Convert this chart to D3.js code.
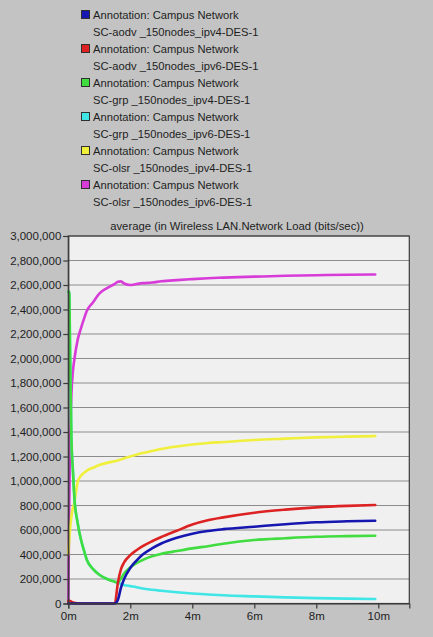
<!DOCTYPE html>
<html><head><meta charset="utf-8">
<script src="https://cdn.jsdelivr.net/npm/d3@7"></script>
<style>
html,body{margin:0;padding:0;background:#c3c3c3;}
svg{display:block;}
text{font-family:"Liberation Sans",Arial,sans-serif;}
</style></head>
<body>
<script>
const legendLabels = [
  ["Annotation: Campus Network","SC-aodv _150nodes_ipv4-DES-1"],
  ["Annotation: Campus Network","SC-aodv _150nodes_ipv6-DES-1"],
  ["Annotation: Campus Network","SC-grp _150nodes_ipv4-DES-1"],
  ["Annotation: Campus Network","SC-grp _150nodes_ipv6-DES-1"],
  ["Annotation: Campus Network","SC-olsr _150nodes_ipv4-DES-1"],
  ["Annotation: Campus Network","SC-olsr _150nodes_ipv6-DES-1"]
];
const seriesColors = ["#1616b0","#dc2222","#40dc40","#40e6e6","#f0f03c","#d83cd8"];
const chartTitle = "average (in Wireless LAN.Network Load (bits/sec))";
const yTicks = [0,200000,400000,600000,800000,1000000,1200000,1400000,1600000,1800000,2000000,2200000,2400000,2600000,2800000,3000000];
const xTicks = [0,2,4,6,8,10];
const xTickLabels = ["0m","2m","4m","6m","8m","10m"];

// time in minutes
const time = [0,0.03,0.06,0.1,0.15,0.2,0.3,0.4,0.5,0.6,0.8,1.0,1.25,1.5,1.6,1.7,1.8,2.0,2.2,2.4,2.7,3.0,3.5,4,4.5,5,6,7,8,9,9.9];
const aodvIpv4 = [0,0,0,0,0,0,0,0,0,0,0,0,0,0,30000,130000,200000,290000,350000,400000,450000,490000,537000,570000,592000,607000,627000,647000,663000,671000,676000];
const aodvIpv6 = [20000,22000,20000,15000,8000,5000,2000,0,0,0,0,0,0,0,170000,280000,335000,395000,435000,468000,508000,543000,594000,645000,680000,703000,741000,766000,785000,797000,804000];
const grpIpv4 = [2545000,2545000,2000000,1350000,1080000,850000,660000,530000,437000,355000,280000,235000,200000,178000,172000,205000,245000,295000,330000,355000,385000,405000,428000,450000,468000,488000,518000,533000,545000,550000,553000];
const grpIpv6 = [2545000,2545000,2000000,1350000,1080000,850000,660000,530000,437000,355000,280000,235000,200000,178000,168000,160000,152000,142000,133000,122000,112000,104000,92000,82000,74000,67000,58000,50000,44000,40000,37000];
const olsrIpv4 = [400000,520000,620000,710000,780000,830000,990000,1040000,1065000,1085000,1108000,1130000,1148000,1162000,1168000,1175000,1185000,1200000,1215000,1228000,1245000,1262000,1282000,1298000,1310000,1318000,1335000,1346000,1356000,1362000,1367000];
const olsrIpv6 = [0,800000,1300000,1700000,1900000,2000000,2150000,2240000,2320000,2390000,2460000,2530000,2575000,2610000,2626000,2630000,2612000,2600000,2608000,2615000,2620000,2630000,2640000,2648000,2655000,2660000,2668000,2675000,2680000,2684000,2686000];
const seriesValues = [aodvIpv4, aodvIpv6, grpIpv4, grpIpv6, olsrIpv4, olsrIpv6];

const W = 433, H = 637;
const m = {left:68.3, right:409.3, top:236, bottom:603.5};
const svg = d3.select("body").append("svg").attr("width",W).attr("height",H);
svg.append("rect").attr("width",W).attr("height",H).attr("fill","#c3c3c3");

// legend
const lg = svg.append("g");
legendLabels.forEach((lab,i)=>{
  const y0 = 10 + i*34;
  lg.append("rect").attr("x",81.5).attr("y",y0+0.5).attr("width",8).attr("height",8)
    .attr("fill",seriesColors[i]).attr("stroke","#303030").attr("stroke-width",1);
  lg.append("text").attr("x",93).attr("y",y0+8.5).attr("font-size",11.2).attr("fill","#1e1e1e").text(lab[0]);
  lg.append("text").attr("x",93).attr("y",y0+25.5).attr("font-size",11.2).attr("fill","#1e1e1e").text(lab[1]);
});

const x = d3.scaleLinear().domain([0,11]).range([m.left,m.right]);
const y = d3.scaleLinear().domain([0,3000000]).range([m.bottom,m.top]);

// plot background
svg.append("rect").attr("x",m.left).attr("y",m.top).attr("width",m.right-m.left).attr("height",m.bottom-m.top).attr("fill","#f0f0f0");

// gridlines
svg.append("g").selectAll("line").data(yTicks.slice(1)).join("line")
  .attr("x1",m.left).attr("x2",m.right).attr("y1",d=>y(d)).attr("y2",d=>y(d))
  .attr("stroke","#8c8c8c").attr("stroke-width",1.2);

// title
svg.append("text").attr("x",237).attr("y",230).attr("text-anchor","middle")
  .attr("font-size",11.3).attr("fill","#1e1e1e").text(chartTitle);

// lines (drawn in reverse order)
const line = d3.line().x((d,i)=>x(time[i])).y(d=>y(d)).curve(d3.curveMonotoneX);
const lines = svg.append("g");
for (let i = seriesValues.length-1; i>=0; i--) {
  lines.append("path").datum(seriesValues[i]).attr("d",line).attr("fill","none")
    .attr("stroke",seriesColors[i]).attr("stroke-width",2.6).attr("stroke-linejoin","round").attr("stroke-linecap","round");
}

// frame
svg.append("rect").attr("x",m.left).attr("y",m.top).attr("width",m.right-m.left).attr("height",m.bottom-m.top)
  .attr("fill","none").attr("stroke","#3a3a3a").attr("stroke-width",1.2);

// axes
const yAxis = svg.append("g").attr("transform",`translate(${m.left},0)`)
  .call(d3.axisLeft(y).tickValues(yTicks).tickFormat(d3.format(",")).tickSize(5).tickPadding(2));
const xAxis = svg.append("g").attr("transform",`translate(0,${m.bottom})`)
  .call(d3.axisBottom(x).tickValues(xTicks).tickFormat((d,i)=>xTickLabels[i]).tickSize(5).tickPadding(3));
[yAxis,xAxis].forEach(a=>{
  a.select(".domain").attr("stroke","#3a3a3a").attr("stroke-width",1.2);
  a.selectAll(".tick line").attr("stroke","#3a3a3a").attr("stroke-width",1.2);
  a.selectAll(".tick text").attr("font-size",11.5).attr("fill","#1e1e1e").attr("font-family","Liberation Sans, Arial, sans-serif");
});
</script>
</body></html>
